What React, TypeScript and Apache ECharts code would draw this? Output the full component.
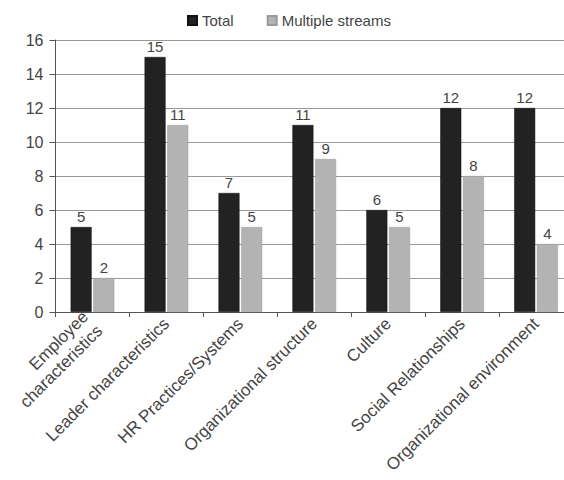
import React, { useEffect, useRef } from "react";
import * as echarts from "echarts";

const categories = [
  "Employee\ncharacteristics",
  "Leader characteristics",
  "HR Practices/Systems",
  "Organizational structure",
  "Culture",
  "Social Relationships",
  "Organizational environment",
];
const totalValues = [5, 15, 7, 11, 6, 12, 12];
const multipleValues = [2, 11, 5, 9, 5, 8, 4];
const yTicks = { min: 0, max: 16, interval: 2 };

export default function App() {
  const ref = useRef<HTMLDivElement>(null);
  useEffect(() => {
    if (!ref.current) return;
    const chart = echarts.init(ref.current, undefined, { renderer: "svg" });
    const font = "'Liberation Sans', Arial, sans-serif";
    chart.setOption({
      animation: false,
      textStyle: { fontFamily: font },
      legend: {
        top: 8,
        left: 182,
        itemWidth: 9,
        itemHeight: 9,
        itemGap: 33,
        icon: "rect",
        textStyle: { fontSize: 15, color: "#444", fontFamily: font },
        data: ["Total", "Multiple streams"],
      },
      grid: { left: 47, right: 7, top: 40, bottom: 168, containLabel: false },
      xAxis: {
        type: "category",
        data: categories,
        axisLine: { lineStyle: { color: "#555", width: 1 } },
        axisTick: { show: true, length: 5, lineStyle: { color: "#555" } },
        axisLabel: {
          rotate: 45,
          fontSize: 17,
          color: "#444",
          margin: 9,
          interval: 0,
          lineHeight: 20,
          fontFamily: font,
        },
      },
      yAxis: {
        type: "value",
        min: yTicks.min,
        max: yTicks.max,
        interval: yTicks.interval,
        axisLine: { show: true, lineStyle: { color: "#555" } },
        axisTick: { show: true, length: 6, lineStyle: { color: "#555" } },
        axisLabel: { fontSize: 16, color: "#444", margin: 12, fontFamily: font },
        splitLine: { lineStyle: { color: "#999", width: 1 } },
      },
      series: [
        {
          name: "Total",
          type: "bar",
          data: totalValues,
          barWidth: 21,
          barGap: "8%",
          itemStyle: { color: "#222222", borderColor: "#111", borderWidth: 0.5 },
          label: { show: true, position: "top", fontSize: 15, color: "#444", distance: 3, fontFamily: font },
        },
        {
          name: "Multiple streams",
          type: "bar",
          data: multipleValues,
          barWidth: 21,
          itemStyle: { color: "#b3b3b3", borderColor: "#999", borderWidth: 0.5 },
          label: { show: true, position: "top", fontSize: 15, color: "#444", distance: 3, fontFamily: font },
        },
      ],
    });
    return () => chart.dispose();
  }, []);
  return (
    <div
      style={{
        position: "absolute",
        left: 0,
        top: 0,
        width: 564,
        height: 480,
        overflow: "hidden",
        background: "#fff",
      }}
    >
      <div ref={ref} style={{ width: 580, height: 480 }} />
    </div>
  );
}
